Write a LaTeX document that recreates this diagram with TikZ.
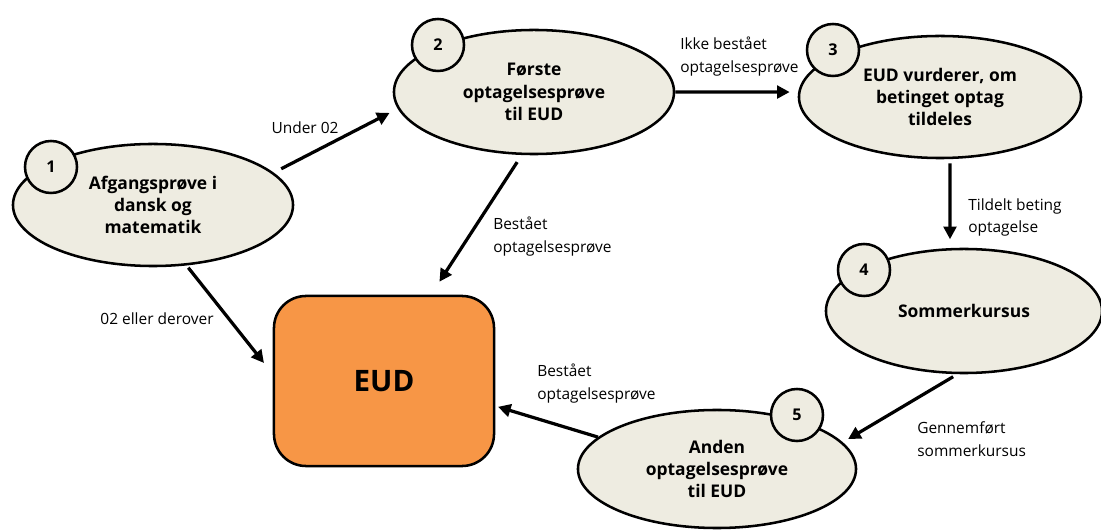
\documentclass[tikz,border=0pt]{standalone}
\usepackage{fontspec}
\setmainfont{Open Sans}
\usetikzlibrary{shapes.geometric,arrows.meta}
\definecolor{tanfill}{HTML}{EEECE1}
\definecolor{eudorange}{HTML}{F79646}
\begin{document}
\begin{tikzpicture}[x=0.025cm,y=-0.025cm,
  ell/.style={ellipse, draw, line width=1.8pt, fill=tanfill, font=\bfseries\fontsize{12.4}{15.8}\selectfont, align=center, inner sep=0pt},
  num/.style={circle, draw, line width=1.8pt, fill=tanfill, minimum size=1.3cm, inner sep=0pt, font=\bfseries\fontsize{11.5}{13}\selectfont},
  lbl/.style={font=\fontsize{11}{16.3}\selectfont, align=left, inner sep=0pt},
  arr/.style={-{Triangle[length=9pt,width=9pt]}, line width=2.3pt}]
\useasboundingbox (0,0) rectangle (1101,530);
\node[ell, minimum width=7.0cm, minimum height=3.05cm] (e1) at (153,205) {Afgangsprøve i\\dansk og\\matematik};
\node[ell, minimum width=7.0cm, minimum height=3.1cm] (e2) at (534,92) {Første\\optagelsesprøve\\til EUD};
\node[ell, minimum width=7.05cm, minimum height=3.05cm] (e3) at (940,97) {EUD vurderer, om\\betinget optag\\tildeles};
\node[ell, minimum width=6.9cm, minimum height=3.1cm] (e4) at (964,311) {Sommerkursus};
\node[ell, minimum width=6.95cm, minimum height=2.95cm] (e5) at (717,469) {Anden\\optagelsesprøve\\til EUD};
\node[draw, line width=1.8pt, fill=eudorange, rounded corners=0.8cm, minimum width=5.5cm, minimum height=4.25cm, font=\bfseries\fontsize{21}{25}\selectfont] (eud) at (384,381) {EUD};
\node[num] (c1) at (51,167) {1};
\node[num] (c2) at (438,45) {2};
\node[num] (c3) at (833,50) {3};
\node[num] (c4) at (864,270) {4};
\node[num] (c5) at (797,415) {5};
\draw[arr, shorten <=6pt, shorten >=6.5pt] (e1.15) -- (e2.187);
\draw[arr, shorten >=6pt] (e2.0) -- (e3.178);
\draw[arr, shorten <=3pt, shorten >=6pt] ([xshift=0.25cm]e3.south) -- ([xshift=-0.35cm]e4.north);
\draw[arr, shorten <=3.5pt, shorten >=4.4pt] (e4.-96) -- (e5.12);
\draw[arr, shorten >=2pt] (e5.165) -- ([yshift=-0.625cm]eud.east);
\draw[arr, shorten <=6pt, shorten >=11pt] (e2.-101) -- ([xshift=1.175cm]eud.north);
\draw[arr, shorten <=2pt, shorten >=10pt] (e1.-61) -- ([yshift=0.175cm]eud.west);
\node[lbl] (l1) at (305,128) {Under 02};
\node[lbl, anchor=west] (l2) at (680,56.5) {Ikke bestået\\optagelsesprøve};
\node[lbl, anchor=west] (l3) at (968,217.5) {Tildelt beting\\optagelse};
\node[lbl, anchor=west] (l4) at (917,439.5) {Gennemført\\sommerkursus};
\node[lbl, anchor=west] (l5) at (537,383.5) {Bestået\\optagelsesprøve};
\node[lbl, anchor=west] (l6) at (493,236.5) {Bestået\\optagelsesprøve};
\node[lbl] (l7) at (157,319) {02 eller derover};
\end{tikzpicture}
\end{document}
